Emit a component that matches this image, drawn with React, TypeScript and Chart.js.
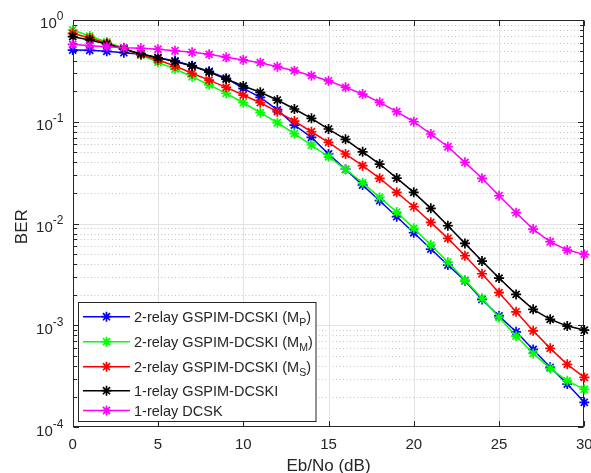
import React, { useEffect, useRef } from 'react';
import { Chart, registerables } from 'chart.js';

Chart.register(...registerables);

// ---------- data ----------
const ebno = [0, 1, 2, 3, 4, 5, 6, 7, 8, 9, 10, 11, 12, 13, 14, 15, 16, 17, 18, 19, 20, 21, 22, 23, 24, 25, 26, 27, 28, 29, 30];

const ber2RelayMP = [0.507, 0.504, 0.493, 0.477, 0.46, 0.426, 0.396, 0.356, 0.313, 0.268, 0.213, 0.174, 0.131, 0.093, 0.0704, 0.0483, 0.0342, 0.0239, 0.0168, 0.0117, 0.00814, 0.00563, 0.00392, 0.00275, 0.0018, 0.00124, 0.000867, 0.000582, 0.000388, 0.000266, 0.000176];
const ber2RelayMM = [0.798, 0.696, 0.608, 0.527, 0.453, 0.384, 0.33, 0.277, 0.231, 0.1905, 0.154, 0.1229, 0.098, 0.0767, 0.0592, 0.0454, 0.0342, 0.0252, 0.0181, 0.013, 0.00899, 0.00616, 0.0042, 0.00279, 0.00185, 0.0012, 0.000787, 0.000532, 0.000379, 0.000286, 0.000236];
const ber2RelayMS = [0.74, 0.666, 0.59, 0.522, 0.456, 0.405, 0.353, 0.3, 0.257, 0.218, 0.1833, 0.154, 0.1257, 0.1018, 0.0799, 0.0629, 0.0483, 0.0371, 0.0279, 0.0203, 0.01466, 0.0103, 0.00717, 0.00484, 0.00322, 0.0021, 0.001363, 0.000887, 0.000596, 0.000415, 0.000309];
const ber1RelayGspim = [0.686, 0.636, 0.581, 0.516, 0.467, 0.426, 0.39, 0.353, 0.308, 0.263, 0.225, 0.195, 0.1637, 0.1336, 0.1082, 0.085, 0.0673, 0.0508, 0.0385, 0.028, 0.0203, 0.01413, 0.00954, 0.0064, 0.00429, 0.00292, 0.00202, 0.00144, 0.00115, 0.000986, 0.000901];
const ber1RelayDcsk = [0.577, 0.559, 0.547, 0.534, 0.527, 0.516, 0.499, 0.482, 0.46, 0.43, 0.405, 0.381, 0.348, 0.318, 0.284, 0.253, 0.218, 0.1875, 0.1554, 0.1257, 0.1002, 0.0759, 0.0569, 0.04, 0.0279, 0.0188, 0.0128, 0.00885, 0.00664, 0.0055, 0.00499];

const seriesMain = ['2-relay GSPIM-DCSKI (M', '2-relay GSPIM-DCSKI (M', '2-relay GSPIM-DCSKI (M', '1-relay GSPIM-DCSKI', '1-relay DCSK'];
const seriesSub = ['P', 'M', 'S', '', ''];
const seriesTail = [')', ')', ')', '', ''];

const xTickValues = [0, 5, 10, 15, 20, 25, 30];
const yExponents = [0, -1, -2, -3, -4];
const xTitle = 'Eb/No (dB)';
const yTitle = 'BER';

// ---------- styles ----------
const seriesData = [ber2RelayMP, ber2RelayMM, ber2RelayMS, ber1RelayGspim, ber1RelayDcsk];
const seriesColors = ['#0000ff', '#00ff00', '#ff0000', '#000000', '#ff00ff'];
const FONT_FAMILY = '"Liberation Sans", Arial, Helvetica, sans-serif';
const AXIS_COLOR = '#262626';
const W = 591;
const H = 473;
const LINE_W = 1.5;
const MARK_R = 5;
const MARK_W = 1.7;

function drawStar(ctx: CanvasRenderingContext2D, x: number, y: number, r: number) {
  const d = r * Math.SQRT1_2;
  ctx.beginPath();
  ctx.moveTo(x - r, y); ctx.lineTo(x + r, y);
  ctx.moveTo(x, y - r); ctx.lineTo(x, y + r);
  ctx.moveTo(x - d, y - d); ctx.lineTo(x + d, y + d);
  ctx.moveTo(x - d, y + d); ctx.lineTo(x + d, y - d);
  ctx.stroke();
}

const matlabPlugin = {
  id: 'matlabAxes',
  beforeDatasetsDraw(chart: any) {
    const { ctx, chartArea: a, scales } = chart;
    const xs = scales.x;
    const ys = scales.y;
    const L = Math.round(a.left) + 0.5;
    const R = Math.round(a.right) - 0.5;
    const T = Math.round(a.top) + 0.5;
    const B = Math.round(a.bottom) - 0.5;
    ctx.save();
    ctx.lineWidth = 1;
    // minor y grid (dotted)
    ctx.strokeStyle = '#c4c4c4';
    ctx.setLineDash([1, 2.5]);
    for (let d = -4; d <= -1; d++) {
      for (let m = 2; m <= 9; m++) {
        const y = Math.round(ys.getPixelForValue(m * Math.pow(10, d))) + 0.5;
        ctx.beginPath(); ctx.moveTo(L, y); ctx.lineTo(R, y); ctx.stroke();
      }
    }
    ctx.setLineDash([]);
    // major grid
    ctx.strokeStyle = '#e2e2e2';
    xTickValues.forEach((v) => {
      if (v === xs.min || v === xs.max) return;
      const x = Math.round(xs.getPixelForValue(v)) + 0.5;
      ctx.beginPath(); ctx.moveTo(x, T); ctx.lineTo(x, B); ctx.stroke();
    });
    yExponents.forEach((e) => {
      const y = Math.round(ys.getPixelForValue(Math.pow(10, e))) + 0.5;
      if (y <= T + 1 || y >= B - 1) return;
      ctx.beginPath(); ctx.moveTo(L, y); ctx.lineTo(R, y); ctx.stroke();
    });
    // frame
    ctx.strokeStyle = AXIS_COLOR;
    ctx.strokeRect(L, T, R - L, B - T);
    // ticks (inward)
    const majorLen = 5.5;
    const minorLen = 3.5;
    ctx.beginPath();
    xTickValues.forEach((v) => {
      const x = Math.round(xs.getPixelForValue(v)) + 0.5;
      ctx.moveTo(x, B); ctx.lineTo(x, B - majorLen);
      ctx.moveTo(x, T); ctx.lineTo(x, T + majorLen);
    });
    yExponents.forEach((e) => {
      const y = Math.round(ys.getPixelForValue(Math.pow(10, e))) + 0.5;
      ctx.moveTo(L, y); ctx.lineTo(L + majorLen, y);
      ctx.moveTo(R, y); ctx.lineTo(R - majorLen, y);
    });
    for (let d = -4; d <= -1; d++) {
      for (let m = 2; m <= 9; m++) {
        const y = Math.round(ys.getPixelForValue(m * Math.pow(10, d))) + 0.5;
        ctx.moveTo(L, y); ctx.lineTo(L + minorLen, y);
        ctx.moveTo(R, y); ctx.lineTo(R - minorLen, y);
      }
    }
    ctx.stroke();

    // tick labels
    ctx.fillStyle = AXIS_COLOR;
    ctx.font = `15px ${FONT_FAMILY}`;
    ctx.textAlign = 'center';
    ctx.textBaseline = 'alphabetic';
    xTickValues.forEach((v) => {
      ctx.fillText(String(v), xs.getPixelForValue(v), a.bottom + 21.7);
    });
    const labelRight = a.left - 9.3;
    yExponents.forEach((e) => {
      const y = ys.getPixelForValue(Math.pow(10, e));
      const sup = String(e);
      ctx.textAlign = 'right';
      ctx.font = `12px ${FONT_FAMILY}`;
      const sw = ctx.measureText(sup).width;
      ctx.fillText(sup, labelRight, y + 0.2);
      ctx.font = `15px ${FONT_FAMILY}`;
      ctx.fillText('10', labelRight - sw, y + 8.3);
    });

    // axis titles
    ctx.font = `17px ${FONT_FAMILY}`;
    ctx.textAlign = 'center';
    ctx.fillText(xTitle, (a.left + a.right) / 2, a.bottom + 44);
    ctx.save();
    ctx.translate(27, (a.top + a.bottom) / 2 + 3);
    ctx.rotate(-Math.PI / 2);
    ctx.fillText(yTitle, 0, 0);
    ctx.restore();
    ctx.restore();
  },
  afterDraw(chart: any) {
    const { ctx } = chart;
    ctx.save();
    // legend box
    const bx = 78.5, by = 302.5, bw = 237.5, bh = 119;
    ctx.fillStyle = '#ffffff';
    ctx.fillRect(bx, by, bw, bh);
    ctx.strokeStyle = AXIS_COLOR;
    ctx.lineWidth = 1;
    ctx.strokeRect(bx, by, bw, bh);
    const rows = [316.7, 341.7, 366.7, 390.7, 410.5];
    chart.data.datasets.forEach((ds: any, i: number) => {
      const y = rows[i];
      ctx.strokeStyle = ds.borderColor;
      ctx.lineWidth = LINE_W;
      ctx.beginPath(); ctx.moveTo(83, y); ctx.lineTo(130, y); ctx.stroke();
      ctx.lineWidth = MARK_W;
      drawStar(ctx, 106.5, y, MARK_R);
      ctx.fillStyle = AXIS_COLOR;
      ctx.textAlign = 'left';
      ctx.textBaseline = 'alphabetic';
      ctx.font = `14.5px ${FONT_FAMILY}`;
      let tx = 134;
      const base = y + 5.2;
      ctx.fillText(seriesMain[i], tx, base);
      tx += ctx.measureText(seriesMain[i]).width;
      if (seriesSub[i]) {
        ctx.font = `10.5px ${FONT_FAMILY}`;
        ctx.fillText(seriesSub[i], tx, base + 3.6);
        tx += ctx.measureText(seriesSub[i]).width;
        ctx.font = `14.5px ${FONT_FAMILY}`;
        ctx.fillText(seriesTail[i], tx, base);
      }
    });
    ctx.restore();
  },
};

export default function App() {
  const ref = useRef<HTMLCanvasElement | null>(null);

  useEffect(() => {
    if (!ref.current) return;
    document.body.style.margin = '0';
    const chart = new Chart(ref.current, {
      type: 'line',
      data: {
        datasets: seriesData.map((vals, i) => ({
          label: seriesMain[i] + seriesSub[i] + seriesTail[i],
          data: ebno.map((x, j) => ({ x, y: vals[j] })),
          borderColor: seriesColors[i],
          backgroundColor: seriesColors[i],
          borderWidth: LINE_W,
          pointStyle: 'star',
          pointRadius: MARK_R,
          pointHoverRadius: MARK_R,
          pointBorderWidth: MARK_W,
          pointBorderColor: seriesColors[i],
          pointBackgroundColor: seriesColors[i],
          tension: 0,
          clip: false,
          order: 5 - i,
        })),
      },
      options: {
        responsive: false,
        maintainAspectRatio: false,
        devicePixelRatio: 1,
        animation: false,
        events: [],
        layout: { padding: { left: 0, top: 20, right: 2.7, bottom: 0 } },
        plugins: { legend: { display: false }, tooltip: { enabled: false } },
        scales: {
          x: {
            type: 'linear',
            min: 0,
            max: 30,
            ticks: { display: false },
            grid: { display: false },
            border: { display: false },
            afterFit: (s: any) => { s.height = 45.7; s.paddingLeft = 0; s.paddingRight = 0; },
          },
          y: {
            type: 'logarithmic',
            min: 1e-4,
            max: 1,
            ticks: { display: false },
            grid: { display: false },
            border: { display: false },
            afterFit: (s: any) => { s.width = 72.7; s.paddingTop = 0; s.paddingBottom = 0; },
          },
        },
      } as any,
      plugins: [matlabPlugin],
    });
    return () => chart.destroy();
  }, []);

  return (
    <div style={{ position: 'fixed', left: 0, top: 0, width: W, height: H, overflow: 'hidden', background: '#fff' }}>
      <canvas ref={ref} width={W} height={H} style={{ display: 'block', width: W, height: H }} />
    </div>
  );
}
